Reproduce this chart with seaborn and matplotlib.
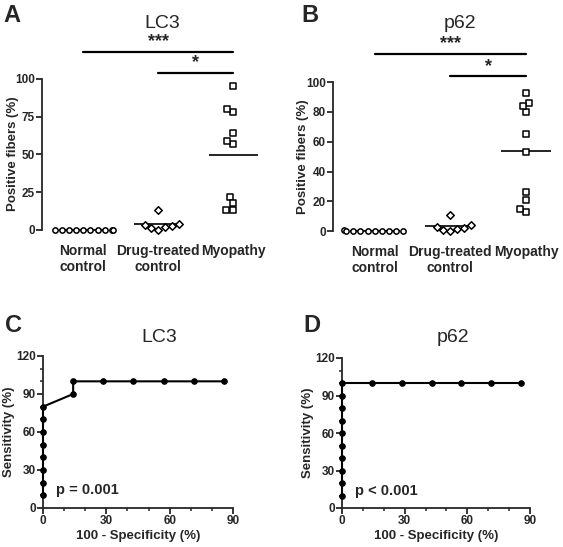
import numpy as np
import pandas as pd
import matplotlib
matplotlib.use('Agg')
import matplotlib.pyplot as plt
import seaborn as sns
from matplotlib.ticker import MultipleLocator

sns.set_style('ticks')
plt.rcParams['font.family'] = ['Liberation Sans', 'DejaVu Sans']
plt.rcParams['font.weight'] = 'bold'
plt.rcParams['axes.labelweight'] = 'bold'

# Data
groups = ['Normal\ncontrol', 'Drug-treated\ncontrol', 'Myopathy']
group_markers = ['o', 'D', 's']

lc3_normal = [0, 0, 0, 0, 0, 0, 0, 0, 0, 0]
lc3_drug = [13, 3, 2, 0, 4, 1, 2.5]
lc3_myopathy = [95, 78, 80, 64, 57, 59, 22, 18, 13, 13]

p62_normal = [0, 0, 0, 0, 0, 1, 0, 0, 0, 0]
p62_drug = [10.5, 3, 1.5, 0, 4, 1, 2]
p62_myopathy = [93, 86, 80, 84, 65, 53, 26, 21, 13, 15]

lc3_roc_x = [0, 0, 0, 0, 0, 0, 0, 0, 14.29, 14.29, 28.57, 42.86, 57.14, 71.43, 85.71]
lc3_roc_y = [10, 20, 30, 40, 50, 60, 70, 80, 90, 100, 100, 100, 100, 100, 100]
p62_roc_x = [0, 0, 0, 0, 0, 0, 0, 0, 0, 0, 14.29, 28.57, 42.86, 57.14, 71.43, 85.71]
p62_roc_y = [10, 20, 30, 40, 50, 60, 70, 80, 90, 100, 100, 100, 100, 100, 100, 100]

W, H = 563, 547


def px_axes(fig, left, right, top, bottom):
    return fig.add_axes([left / W, 1 - bottom / H, (right - left) / W, (bottom - top) / H])


fig = plt.figure(figsize=(W / 100, H / 100), dpi=100)


def scatter_panel(ax, values, yticks, sig_y, label_x):
    df = pd.concat([pd.DataFrame({'group': g, 'value': v}) for g, v in zip(groups, values)])
    for g, m in zip(groups, group_markers):
        sns.swarmplot(data=df[df['group'] == g], x='group', y='value', order=groups,
                      marker=m, color='white', edgecolor='black', linewidth=1.1,
                      size=3.8, ax=ax, clip_on=False, zorder=3)
    for i, v in enumerate(values):
        ax.hlines(np.mean(v), i - 0.33, i + 0.33, color='black', lw=1.2, zorder=2)
    ax.set_xlim(-0.55, 2.42)
    ax.set_ylim(-5, 125)
    ax.set_yticks(yticks)
    ax.spines['left'].set_bounds(0, 100)
    ax.spines['left'].set_linewidth(1.3)
    for s in ['top', 'right', 'bottom']:
        ax.spines[s].set_visible(False)
    ax.tick_params(axis='x', bottom=False, labelsize=10, pad=1)
    ax.tick_params(axis='y', length=4, width=1.3, labelsize=8.5, pad=1)
    ax.set_xlabel('')
    ax.set_ylabel('Positive fibers (%)', fontsize=9.5)
    ax.yaxis.set_label_coords(label_x, 0.425)
    # significance bars
    ax.plot([0, 2], [sig_y[0], sig_y[0]], color='black', lw=1.6, clip_on=False)
    ax.text(1, sig_y[0] + 1, '***', ha='center', va='bottom', fontsize=13)
    ax.plot([1, 2], [sig_y[1], sig_y[1]], color='black', lw=1.6, clip_on=False)
    ax.text(1.5, sig_y[1] + 1, '*', ha='center', va='bottom', fontsize=13)


def roc_panel(ax, x, y, ptext, label_x):
    sns.lineplot(x=x, y=y, sort=False, estimator=None, color='black', lw=1.5,
                 marker='o', markersize=4, markeredgecolor='black', ax=ax, clip_on=False, zorder=3)
    ax.set_xlim(0, 90)
    ax.set_ylim(0, 120)
    ax.xaxis.set_major_locator(MultipleLocator(30))
    ax.xaxis.set_minor_locator(MultipleLocator(10))
    ax.yaxis.set_major_locator(MultipleLocator(30))
    ax.yaxis.set_minor_locator(MultipleLocator(10))
    for s in ['top', 'right']:
        ax.spines[s].set_visible(False)
    for s in ['left', 'bottom']:
        ax.spines[s].set_linewidth(1.3)
    ax.tick_params(which='major', length=4, width=1.3, labelsize=8.5, pad=1)
    ax.tick_params(which='minor', length=2.5, width=1.1)
    ax.set_xlabel('100 - Specificity (%)', fontsize=9.5, labelpad=2)
    ax.set_ylabel('Sensitivity (%)', fontsize=9.5)
    ax.yaxis.set_label_coords(label_x, 0.5)
    ax.text(6, 14, ptext, fontsize=10.5, va='center')


ax_a = px_axes(fig, 42, 265, 41, 237.5)
scatter_panel(ax_a, [lc3_normal, lc3_drug, lc3_myopathy], [0, 25, 50, 75, 100], [118, 104], -0.105)

ax_b = px_axes(fig, 333, 558, 45, 238.5)
scatter_panel(ax_b, [p62_normal, p62_drug, p62_myopathy], [0, 20, 40, 60, 80, 100], [119, 104], -0.105)

ax_c = px_axes(fig, 43, 233, 356, 508)
roc_panel(ax_c, lc3_roc_x, lc3_roc_y, 'p = 0.001', -0.145)

ax_d = px_axes(fig, 342, 530, 358, 508)
roc_panel(ax_d, p62_roc_x, p62_roc_y, 'p < 0.001', -0.15)

# titles and panel letters
for txt, x, y in [('LC3', 162, 24), ('p62', 460, 24), ('LC3', 159, 337), ('p62', 453, 337)]:
    fig.text(x / W, 1 - y / H, txt, ha='center', va='center', fontsize=14, fontweight='normal')
for txt, x, y in [('A', 12, 15), ('B', 310, 15), ('C', 14, 325), ('D', 312, 325)]:
    fig.text(x / W, 1 - y / H, txt, ha='center', va='center', fontsize=17, fontweight='bold')

fig.savefig('out.png', dpi=100)
